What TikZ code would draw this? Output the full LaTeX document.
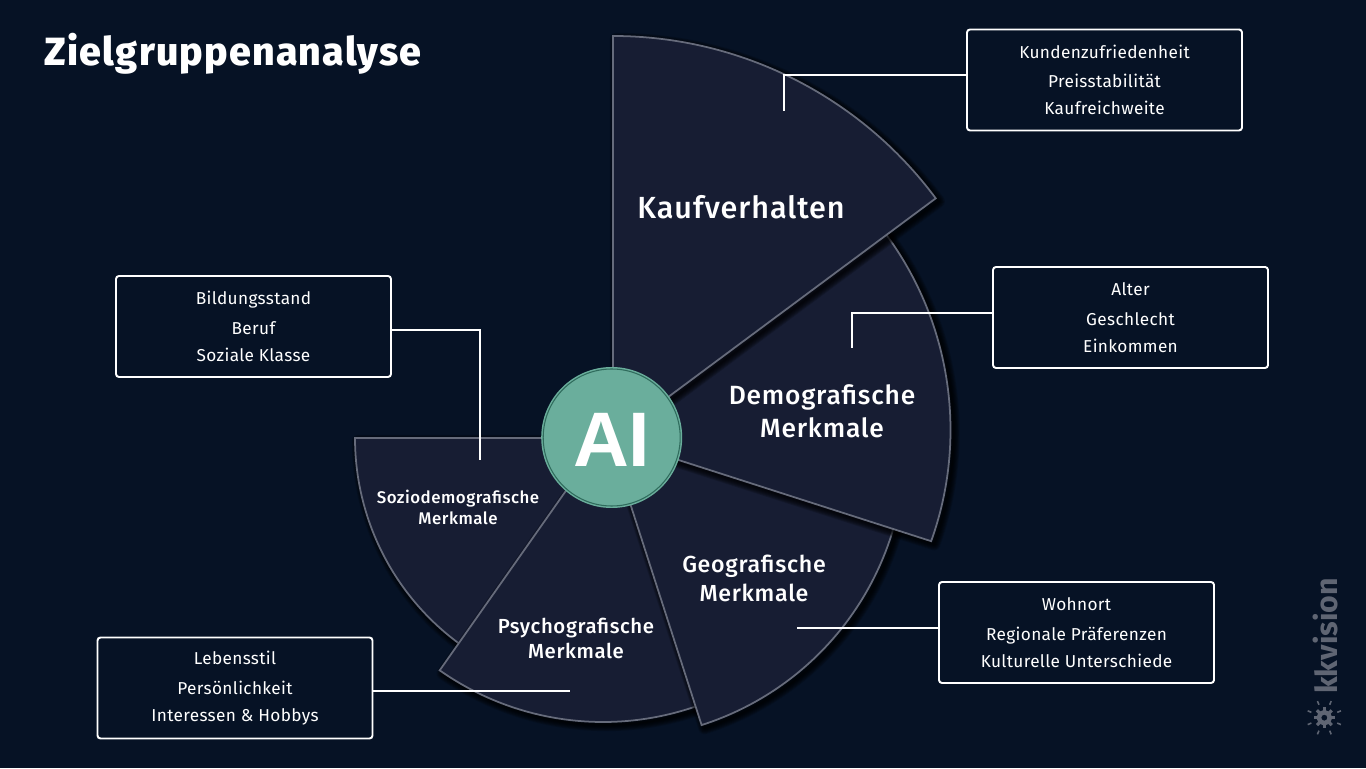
\documentclass[tikz,border=0pt]{standalone}
\usepackage{fontspec}
\setmainfont{Fira Sans}
\newfontfamily\mittel[LetterSpace=3]{Fira Sans Medium}
\newfontfamily\kastenfont[LetterSpace=2]{Fira Sans}
\newfontfamily\titelfont[LetterSpace=3]{Fira Sans ExtraBold}
\newfontfamily\kifont{Liberation Sans}
\definecolor{grund}{HTML}{061225}
\definecolor{sektorfill}{HTML}{171D33}
\definecolor{sektorrand}{HTML}{666B7B}
\definecolor{mitte}{HTML}{6AAE9C}
\definecolor{mitterand}{HTML}{2F6B5C}
\definecolor{logograu}{HTML}{5F6573}
\tikzset{
kasten/.style={draw=white,line width=0.55pt,rounded corners=0.03cm,minimum width=2.75cm,minimum height=1.01cm,inner sep=0pt,align=center,text=white,font=\kastenfont\fontsize{4.9pt}{7.7pt}\selectfont},
linie/.style={draw=white,line width=0.55pt},
schatten/.style={draw=black,opacity=0.17,line join=round},
sektor/.style={fill=sektorfill,draw=sektorrand,line width=0.5pt,line join=miter},
sektortext/.style 2 args={text=white,align=center,font=\mittel\fontsize{#1}{#2}\selectfont}
}
% apex, arc centre, r, start angle, end angle
\newcommand{\sektorzeichnen}[5]{
\foreach \w in {0.5,1,1.5,2,2.5,3,3.5}
\draw [schatten,line width=\w pt,shift={(0.03,-0.03)}] (#1)--([shift={(#4:#3)}]#2) arc[start angle=#4,end angle=#5,radius=#3]--cycle;
\draw [sektor] (#1)--([shift={(#4:#3)}]#2) arc[start angle=#4,end angle=#5,radius=#3]--cycle;
}
\begin{document}
\begin{tikzpicture}
\useasboundingbox (0,0) rectangle (13.66,7.68);
\fill [grund] (0,0) rectangle (13.66,7.68);
\sektorzeichnen{6.10,3.30}{6.10,3.30}{2.55}{180}{240}
\sektorzeichnen{6.03,3.30}{6.03,3.30}{2.84}{234.9}{295}
\sektorzeichnen{6.09,3.30}{6.127,3.215}{2.924}{287.7}{350}
\sektorzeichnen{6.10,3.30}{6.215,3.38}{3.29}{340.25}{400}
\sektorzeichnen{6.13,3.30}{6.13,3.30}{4.02}{36.6}{90}
\node (kauf) [sektortext={8.7pt}{10pt}] at (7.41,5.61) {Kaufverhalten};
\node (demo) [sektortext={7.5pt}{9.4pt}] at (8.22,3.57) {Demografische\\Merkmale};
\node (geo) [sektortext={6.6pt}{8.25pt}] at (7.54,1.90) {Geografische\\Merkmale};
\node (psycho) [sektortext={5.8pt}{7.1pt}] at (5.76,1.30) {Psychografische\\Merkmale};
\node (sozio) [sektortext={4.8pt}{6pt}] at (4.58,2.61) {Soziodemografische\\Merkmale};
\node (ki) [circle,fill=mitte,minimum size=1.41cm,inner sep=0pt] at (6.117,3.305) {};
\draw [mitterand,line width=0.3pt] (ki) circle (0.685);
\node (kitext) [text=white,font=\kifont\bfseries\fontsize{22pt}{22pt}\selectfont] at (6.117,3.285) {AI};
\node (titel) [text=white,anchor=base west,inner sep=0pt,font=\titelfont\fontsize{11.2pt}{12pt}\selectfont] at (0.44,7.02) {Zielgruppenanalyse};
\node (kastenkauf) [kasten] at (11.045,6.88) {Kundenzufriedenheit\\[0.7pt]Preisstabilität\\Kaufreichweite};
\node (kastendemo) [kasten] at (11.305,4.505) {Alter\\[0.7pt]Geschlecht\\Einkommen};
\node (kastengeo) [kasten] at (10.765,1.355) {Wohnort\\[0.7pt]Regionale Präferenzen\\Kulturelle Unterschiede};
\node (kastenpsycho) [kasten] at (2.35,0.80) {Lebensstil\\[0.7pt]Persönlichkeit\\Interessen \& Hobbys};
\node (kastensozio) [kasten] at (2.535,4.415) {Bildungsstand\\[0.7pt]Beruf\\Soziale Klasse};
\coordinate (eckkauf) at (7.84,6.93);
\coordinate (endkauf) at (7.84,6.57);
\coordinate (eckdemo) at (8.52,4.55);
\coordinate (enddemo) at (8.52,4.20);
\coordinate (endgeo) at (7.97,1.40);
\coordinate (endpsycho) at (5.70,0.77);
\coordinate (ecksozio) at (4.80,4.38);
\coordinate (endsozio) at (4.80,3.08);
\draw [linie] (kastenkauf.west|-eckkauf)--(eckkauf)--(endkauf);
\draw [linie] (kastendemo.west|-eckdemo)--(eckdemo)--(enddemo);
\draw [linie] (kastengeo.west|-endgeo)--(endgeo);
\draw [linie] (kastenpsycho.east|-endpsycho)--(endpsycho);
\draw [linie] (kastensozio.east|-ecksozio)--(ecksozio)--(endsozio);
\node (logo) [text=logograu,rotate=90,font=\bfseries\fontsize{8.6pt}{10pt}\selectfont] at (13.25,1.32) {kkvision};
\begin{scope}[shift={(13.243,0.503)}]
\foreach \a in {0,45,...,315} {
\draw [logograu,line width=0.9pt] (\a:0.06)--(\a:0.105);
\draw [logograu,line width=0.45pt] (\a+22.5:0.14)--(\a+22.5:0.18);
}
\draw [logograu,line width=1.3pt] (0,0) circle (0.055);
\end{scope}
\end{tikzpicture}
\end{document}
